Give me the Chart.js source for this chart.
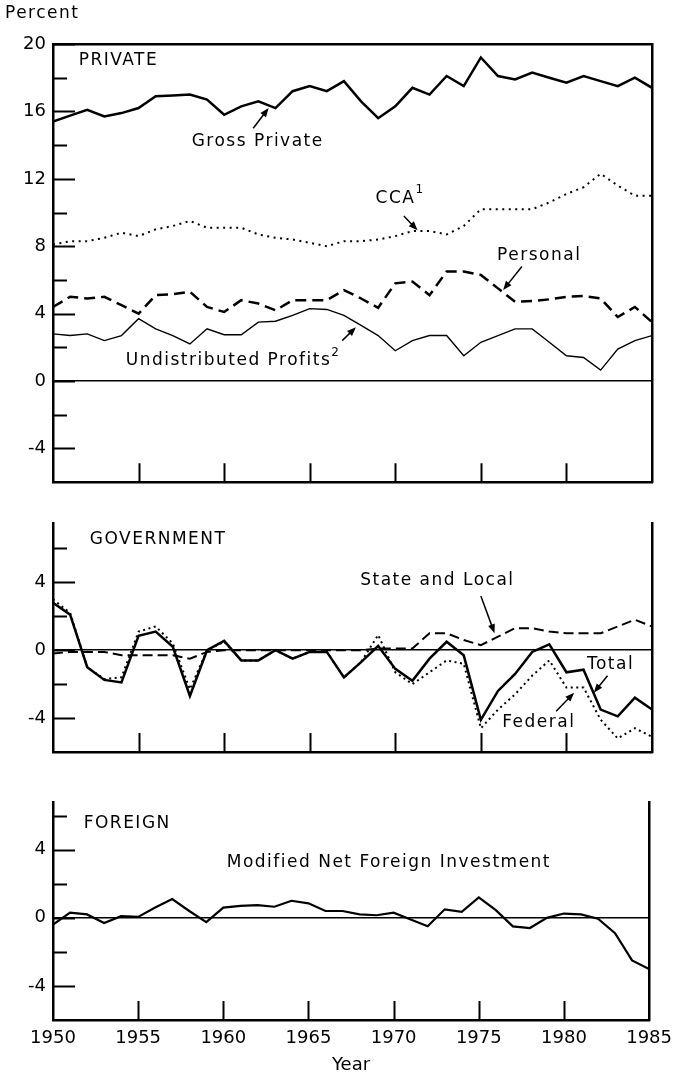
<!DOCTYPE html>
<html>
<head>
<meta charset="utf-8">
<script src="https://cdn.jsdelivr.net/npm/chart.js@4.4.0/dist/chart.umd.min.js"></script>
<style>
  html, body { margin: 0; padding: 0; background: #fff; }
  #wrap { position: relative; width: 680px; height: 1076px; }
  .panel { position: absolute; left: 0; width: 680px; }
</style>
</head>
<body>
<div id="wrap">
  <div class="panel" style="top:0"><canvas id="privateChart" width="680" height="500"></canvas></div>
  <div class="panel" style="top:500px"><canvas id="govChart" width="680" height="270"></canvas></div>
  <div class="panel" style="top:770px"><canvas id="foreignChart" width="680" height="306"></canvas></div>
</div>
<script>
// anos
const years = [1950, 1951, 1952, 1953, 1954, 1955, 1956, 1957, 1958, 1959,
               1960, 1961, 1962, 1963, 1964, 1965, 1966, 1967, 1968, 1969,
               1970, 1971, 1972, 1973, 1974, 1975, 1976, 1977, 1978, 1979,
               1980, 1981, 1982, 1983, 1984, 1985];

// PRIVATE (percent)
const grossPrivate = [15.4, 15.75, 16.1, 15.7, 15.9, 16.2, 16.9, 16.95, 17.0, 16.7,
                      15.8, 16.3, 16.6, 16.2, 17.2, 17.5, 17.2, 17.8, 16.6, 15.6,
                      16.3, 17.4, 17.0, 18.1, 17.5, 19.2, 18.1, 17.9, 18.3, 18.0,
                      17.7, 18.1, 17.8, 17.5, 18.0, 17.4];
const cca = [8.1, 8.3, 8.3, 8.5, 8.8, 8.6, 9.0, 9.2, 9.5, 9.1,
             9.1, 9.1, 8.7, 8.5, 8.4, 8.2, 8.0, 8.3, 8.3, 8.4,
             8.6, 8.9, 8.9, 8.7, 9.2, 10.2, 10.2, 10.2, 10.2, 10.6,
             11.1, 11.5, 12.3, 11.6, 11.0, 11.0];
const personal = [4.4, 5.0, 4.9, 5.0, 4.5, 4.0, 5.1, 5.15, 5.3, 4.4,
                  4.1, 4.8, 4.6, 4.2, 4.8, 4.8, 4.8, 5.4, 4.9, 4.35,
                  5.8, 5.9, 5.1, 6.5, 6.5, 6.3, 5.5, 4.7, 4.75, 4.85,
                  5.0, 5.05, 4.9, 3.8, 4.4, 3.5];
const undistributed = [2.8, 2.7, 2.8, 2.4, 2.7, 3.7, 3.1, 2.7, 2.2, 3.1,
                       2.75, 2.75, 3.5, 3.55, 3.9, 4.3, 4.25, 3.9, 3.3, 2.7,
                       1.8, 2.4, 2.7, 2.7, 1.5, 2.3, 2.7, 3.1, 3.1, 2.3,
                       1.5, 1.4, 0.65, 1.9, 2.4, 2.7];

// GOVERNMENT
const govTotal = [2.8, 2.1, -1.0, -1.75, -1.9, 0.85, 1.1, 0.2, -2.7, 0.0,
                  0.55, -0.6, -0.6, 0.0, -0.5, -0.1, -0.1, -1.6, -0.7, 0.25,
                  -1.1, -1.8, -0.5, 0.5, -0.3, -4.1, -2.4, -1.4, -0.1, 0.35,
                  -1.3, -1.15, -3.5, -3.9, -2.8, -3.5];
const federal = [3.0, 2.2, -1.0, -1.7, -1.6, 1.1, 1.4, 0.4, -2.3, 0.0,
                 0.5, -0.6, -0.6, 0.0, -0.5, -0.1, -0.1, -1.6, -0.7, 0.9,
                 -1.3, -2.0, -1.3, -0.6, -0.8, -4.6, -3.5, -2.6, -1.5, -0.6,
                 -2.2, -2.2, -4.1, -5.2, -4.6, -5.1];
const stateLocal = [-0.2, -0.1, -0.1, -0.1, -0.3, -0.3, -0.3, -0.3, -0.5, -0.1,
                    0.0, 0.0, 0.0, 0.0, 0.0, 0.0, 0.0, 0.0, 0.0, 0.1,
                    0.1, 0.1, 1.0, 1.0, 0.6, 0.3, 0.8, 1.3, 1.3, 1.1,
                    1.0, 1.0, 1.0, 1.4, 1.8, 1.4];

// FOREIGN
const foreignNet = [-0.4, 0.3, 0.2, -0.3, 0.1, 0.05, 0.6, 1.1, 0.4, -0.25,
                    0.6, 0.7, 0.75, 0.65, 1.0, 0.85, 0.4, 0.4, 0.2, 0.15,
                    0.3, -0.1, -0.5, 0.5, 0.35, 1.2, 0.45, -0.5, -0.6, 0.0,
                    0.25, 0.2, -0.05, -0.9, -2.5, -3.0];

const FONT = 'DejaVu Sans';
const tickFont = { family: FONT, size: 18 };

function pts(vals) {
    return years.map((yr, i) => ({ x: yr, y: vals[i] }));
}

function line(label, vals, width, dash) {
    return {
        label: label,
        data: pts(vals),
        borderColor: '#000',
        borderWidth: width,
        borderDash: dash || [],
        pointRadius: 0,
        fill: false,
        tension: 0
    };
}

// ticks para dentro + textos e setas
const panelDeco = {
    id: 'panelDeco',
    afterDatasetsDraw(chart, args, opts) {
        const { ctx, chartArea, scales } = chart;
        const x = scales.x, y = scales.y;
        ctx.save();
        ctx.strokeStyle = '#000';
        ctx.fillStyle = '#000';
        ctx.lineWidth = 2;
        ctx.beginPath();
        for (let v = Math.ceil(y.min / 2) * 2; v <= y.max; v += 2) {
            if (v === y.min) continue;
            const py = Math.round(y.getPixelForValue(v)) + 0.5;
            const len = v % 4 === 0 ? 22 : 14;
            ctx.moveTo(chartArea.left, py);
            ctx.lineTo(chartArea.left + len, py);
        }
        for (let v = x.min + 5; v < x.max; v += 5) {
            const px = Math.round(x.getPixelForValue(v)) + 0.5;
            ctx.moveTo(px, chartArea.bottom);
            ctx.lineTo(px, chartArea.bottom - 19);
        }
        ctx.stroke();

        (opts.arrows || []).forEach(a => {
            const x1 = x.getPixelForValue(a.from[0]), y1 = y.getPixelForValue(a.from[1]);
            const x2 = x.getPixelForValue(a.to[0]), y2 = y.getPixelForValue(a.to[1]);
            const ang = Math.atan2(y2 - y1, x2 - x1);
            ctx.lineWidth = 1.5;
            ctx.beginPath();
            ctx.moveTo(x1, y1);
            ctx.lineTo(x2 - 6 * Math.cos(ang), y2 - 6 * Math.sin(ang));
            ctx.stroke();
            ctx.beginPath();
            ctx.moveTo(x2, y2);
            ctx.lineTo(x2 - 9 * Math.cos(ang) + 3.5 * Math.sin(ang), y2 - 9 * Math.sin(ang) - 3.5 * Math.cos(ang));
            ctx.lineTo(x2 - 9 * Math.cos(ang) - 3.5 * Math.sin(ang), y2 - 9 * Math.sin(ang) + 3.5 * Math.cos(ang));
            ctx.closePath();
            ctx.fill();
        });

        ctx.textBaseline = 'middle';
        ctx.textAlign = 'left';
        (opts.texts || []).forEach(t => {
            ctx.font = '17px "' + FONT + '"';
            ctx.letterSpacing = '1.5px';
            let px = t.pixel ? chartArea.left + t.pixel[0] : x.getPixelForValue(t.at[0]);
            let py = t.pixel ? chartArea.top + t.pixel[1] : y.getPixelForValue(t.at[1]);
            ctx.fillText(t.text, px, py);
            if (t.sup) {
                const w = ctx.measureText(t.text).width;
                ctx.font = '12px "' + FONT + '"';
                ctx.letterSpacing = '0px';
                ctx.fillText(t.sup, px + w, py - 8);
            }
        });
        ctx.restore();
    }
};

function panelChart(id, o) {
    const border = { display: true, color: '#000', width: 2.5 };
    const scales = {
        x: {
            type: 'linear', position: 'bottom', min: 1950, max: 1985,
            afterFit: s => { s.height = o.xHeight; },
            border: border,
            grid: { display: false, drawTicks: false },
            ticks: {
                display: !!o.showYears, stepSize: 5, padding: 8, color: '#000',
                font: tickFont, maxRotation: 0, autoSkip: false,
                callback: v => String(v)
            },
            title: {
                display: !!o.showYears, text: 'Year', color: '#000',
                font: { family: FONT, size: 18 }, padding: { top: 0, bottom: 0 }
            }
        },
        y: {
            type: 'linear', position: 'left', min: o.yMin, max: o.yMax,
            afterFit: s => { s.width = 53; },
            border: border,
            grid: {
                drawTicks: false,
                lineWidth: 1.5,
                color: c => (c.tick && c.tick.value === 0 ? '#000' : 'rgba(0,0,0,0)')
            },
            ticks: {
                stepSize: 2, padding: 7, color: '#000', font: tickFont,
                callback: v => (v % 4 === 0 ? String(v) : '')
            }
        },
        yRight: {
            type: 'linear', position: 'right', min: o.yMin, max: o.yMax,
            afterFit: s => { s.width = 0; },
            border: border,
            grid: { display: false, drawTicks: false },
            ticks: { display: false }
        }
    };
    if (o.boxTop) {
        scales.xTop = {
            type: 'linear', position: 'top', min: 1950, max: 1985,
            afterFit: s => { s.height = 0; },
            border: border,
            grid: { display: false, drawTicks: false },
            ticks: { display: false }
        };
    }
    return new Chart(document.getElementById(id).getContext('2d'), {
        type: 'line',
        data: { datasets: o.datasets },
        options: {
            responsive: false,
            animation: false,
            layout: { padding: o.padding },
            scales: scales,
            plugins: {
                legend: { display: false },
                tooltip: { enabled: false },
                panelDeco: { texts: o.texts, arrows: o.arrows }
            }
        },
        plugins: [panelDeco]
    });
}

panelChart('privateChart', {
    yMin: -6, yMax: 20, xHeight: 0, boxTop: true,
    padding: { top: 44, right: 28, bottom: 16, left: 0 },
    datasets: [
        line('Gross Private', grossPrivate, 2.5),
        line('CCA', cca, 2, [2, 4.5]),
        line('Personal', personal, 2.5, [11, 6]),
        line('Undistributed Profits', undistributed, 1.4)
    ],
    texts: [
        { text: 'Percent', pixel: [-48, -30] },
        { text: 'PRIVATE', at: [1951.5, 19.0] },
        { text: 'Gross Private', at: [1958.1, 14.2] },
        { text: 'CCA', sup: '1', at: [1968.85, 10.85] },
        { text: 'Personal', at: [1975.95, 7.42] },
        { text: 'Undistributed Profits', sup: '2', at: [1954.25, 1.21] }
    ],
    arrows: [
        { from: [1961.7, 15.0], to: [1962.6, 16.2] },
        { from: [1970.5, 9.8], to: [1971.3, 8.95] },
        { from: [1977.4, 6.8], to: [1976.3, 5.4] },
        { from: [1966.9, 2.4], to: [1967.7, 3.2] }
    ]
});

panelChart('govChart', {
    yMin: -6, yMax: 7.5, xHeight: 0,
    padding: { top: 23, right: 28, bottom: 18, left: 0 },
    datasets: [
        line('Total', govTotal, 2.5),
        line('Federal', federal, 2, [2, 3.5]),
        line('State and Local', stateLocal, 2, [10, 5])
    ],
    texts: [
        { text: 'GOVERNMENT', at: [1952.15, 6.5] },
        { text: 'State and Local', at: [1967.95, 4.1] },
        { text: 'Total', at: [1981.2, -0.85] },
        { text: 'Federal', at: [1976.25, -4.25] }
    ],
    arrows: [
        { from: [1975.0, 3.2], to: [1975.8, 1.0] },
        { from: [1982.4, -1.5], to: [1981.6, -2.5] },
        { from: [1979.4, -3.6], to: [1980.45, -2.5] }
    ]
});

panelChart('foreignChart', {
    yMin: -6, yMax: 6.8, xHeight: 56, showYears: true,
    padding: { top: 32, right: 28, bottom: 0, left: 0 },
    datasets: [
        line('Modified Net Foreign Investment', foreignNet, 2.2)
    ],
    texts: [
        { text: 'FOREIGN', at: [1951.8, 5.55] },
        { text: 'Modified Net Foreign Investment', at: [1960.2, 3.27] }
    ],
    arrows: []
});
</script>
</body>
</html>
